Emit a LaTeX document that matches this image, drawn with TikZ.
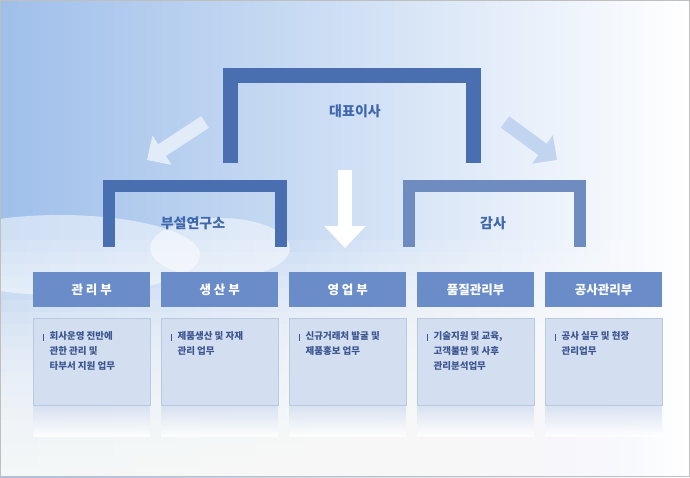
\documentclass[tikz,border=0pt]{standalone}
\usepackage{fontspec}
\newfontfamily\kr{Noto Sans CJK KR}
\usetikzlibrary{arrows.meta}
\definecolor{brk}{HTML}{4A6FB0}
\definecolor{hdr}{HTML}{6A8DC9}
\definecolor{body}{HTML}{D3DEF0}
\definecolor{bord}{HTML}{B9C9E2}
\definecolor{sky}{HTML}{9FBFEA}
\definecolor{txt}{HTML}{3A5590}
\definecolor{lab}{HTML}{4068AC}
\begin{document}
\begin{tikzpicture}[x=1pt,y=-1pt,
 hd/.style={fill=hdr,text=white,minimum width=117pt,minimum height=35pt,inner sep=0pt,font=\kr\bfseries\fontsize{12.5}{14}\selectfont},
 bd/.style={fill=body,draw=bord,minimum width=117pt,minimum height=87pt,inner sep=0pt},
 bt/.style={text=txt,font=\kr\bfseries\fontsize{9.5}{15}\selectfont,align=left,anchor=north west},
 lbl/.style={text=lab,font=\kr\bfseries\fontsize{14}{16}\selectfont}]
\useasboundingbox (0,0) rectangle (690,477);
\fill[white] (0,0) rectangle (690,477);
\shade[left color=sky,right color=white] (0,0) rectangle (690,477);
\foreach \i in {0,...,19}{
 \fill[white,opacity=0.12] (0,240+\i*12) rectangle (690,477);
}
\fill[white,opacity=0.5] (60,255) ellipse (140 and 40);
\fill[white,opacity=0.5] (220,248) ellipse (70 and 30);
\draw[gray!50] (0.5,0.5) rectangle (689.5,476.5);
% brackets
\draw[draw=brk,line width=15pt] (230.5,163) -- (230.5,75) -- (473.5,75) -- (473.5,163);
\node[lbl] (ceo) at (355,111) {대표이사};
\draw[draw=brk,line width=12pt] (109,247) -- (109,186) -- (281,186) -- (281,247);
\draw[draw=brk!80!white,line width=12pt] (409,247) -- (409,186) -- (580,186) -- (580,247);
\node[lbl] (labn) at (193,223) {부설연구소};
\node[lbl] (aud) at (493,223) {감사};
% arrows
\coordinate (a1s) at (205,122); \coordinate (a1e) at (147,160);
\coordinate (a2s) at (505,122); \coordinate (a2e) at (557,160);
\coordinate (a3s) at (345,170); \coordinate (a3e) at (345,248);
\draw[-{Triangle[length=18pt,width=34pt]},line width=14pt,draw=white!70!sky] (a1s) -- (a1e);
\draw[-{Triangle[length=18pt,width=34pt]},line width=14pt,draw=sky!65!white] (a2s) -- (a2e);
\draw[-{Triangle[length=22pt,width=40pt]},line width=14pt,draw=white] (a3s) -- (a3e);
% departments
\foreach \n/\x/\t/\d in {d1/33/관 리 부/{회사운영 전반에\\관한 관리 및\\타부서 지원 업무},
 d2/161/생 산 부/{제품생산 및 자재\\관리 업무},
 d3/289/영 업 부/{신규거래처 발굴 및\\제품홍보 업무},
 d4/417/품질관리부/{기술지원 및 교육,\\고객불만 및 사후\\관리분석업무},
 d5/545/공사관리부/{공사 실무 및 현장\\관리업무}}{
 \node[hd,anchor=north west] (\n) at (\x,272) {\t};
 \node[bd,anchor=north west] (\n b) at (\x,318) {};
 \shade[top color=body,bottom color=white,opacity=0.8] (\x,406) rectangle ++(117,30);
 \draw[txt,line width=0.8pt] (\x+10,334) -- (\x+10,341);
 \node[bt] (\n t) at (\x+13,328) {\d};
}
\end{tikzpicture}
\end{document}
